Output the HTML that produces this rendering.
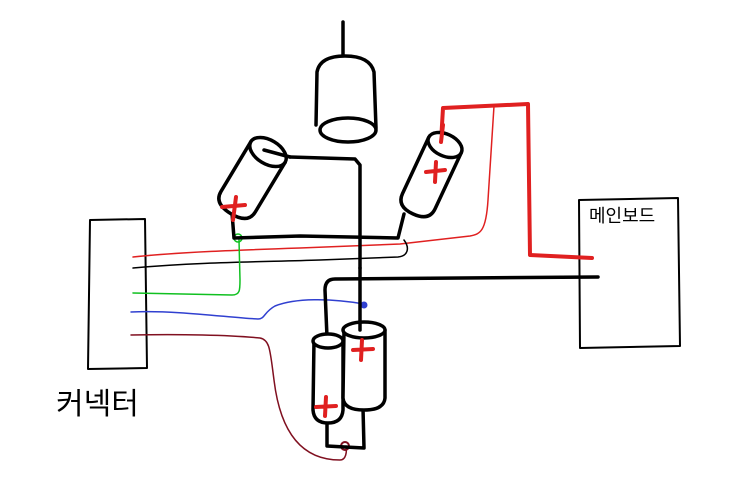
<!DOCTYPE html>
<html><head><meta charset="utf-8"><style>
html,body{margin:0;padding:0;background:#fff;width:743px;height:500px;overflow:hidden}
</style></head><body>
<svg width="743" height="500" viewBox="0 0 743 500" xmlns="http://www.w3.org/2000/svg" fill="none" stroke-linecap="round" stroke-linejoin="round">
<path d="M90,220 L145,219 L147,368 L88,369 Z" stroke="#000" stroke-width="2"/>
<text x="56" y="414" font-family="Liberation Sans, 'Noto Sans CJK KR', sans-serif" font-size="30" fill="#000" stroke="none">커넥터</text>
<path d="M579,200 L678,198 L680,346 L580,348 Z" stroke="#000" stroke-width="2"/>
<text x="589" y="222" font-family="Liberation Sans, 'Noto Sans CJK KR', sans-serif" font-size="18" fill="#000" stroke="none">메인보드</text>

<path d="M133,257 C180,252 240,250 300,248 L400,244 L470,236 C480,234 486,232 488,200 L494,106" stroke="#e02020" stroke-width="1.5"/>
<path d="M133,268 C200,262 260,262 320,260 L398,257 C408,256 410,248 404,240" stroke="#000" stroke-width="1.5"/>
<path d="M133,293 L232,295 C240,295 240,290 240,280 L239,240" stroke="#10c020" stroke-width="1.5"/>
<circle cx="238" cy="238" r="4" stroke="#10c020" stroke-width="1.5"/>
<path d="M131,312 C180,310 230,318 258,319 C265,319 264,312 275,306 C295,298 330,298 364,304" stroke="#3040d0" stroke-width="1.5"/>
<circle cx="364" cy="305" r="3" fill="#3040d0" stroke="#3040d0"/>
<path d="M131,335 C180,334 230,335 260,338 C270,340 270,350 274,380 C280,430 300,460 340,460 C346,460 347,452 346,446" stroke="#801020" stroke-width="1.5"/>
<circle cx="345" cy="446" r="4" stroke="#801020" stroke-width="2"/>

<path d="M441,142 L443,108 L528,104 L530,255 L592,258" stroke="#e02020" stroke-width="4"/>

<path d="M343,22 L343,55" stroke="#000" stroke-width="3.5"/>
<path d="M316,125 L317,72 Q320,56 345,56 Q370,56 374,72 L376,128" stroke="#000" stroke-width="3.5"/>
<ellipse cx="348" cy="130" rx="28" ry="12" stroke="#000" stroke-width="3.5"/>

<path d="M290,157 L355,159 L360,165 L360,268" stroke="#000" stroke-width="3.5"/>
<path d="M232,213 L234,238 L300,236 L398,238 L404,214" stroke="#000" stroke-width="3.5"/>
<path d="M327,337 L325,290 Q325,279 335,279 L598,277" stroke="#000" stroke-width="3.5"/>
<path d="M327,420 L327,446 L345,447 L364,448 L363,408" stroke="#000" stroke-width="3.5"/>

<g transform="translate(268,152) rotate(31)">
<path d="M-20,0 L-20,58 Q-20,72 0,72 Q20,72 20,58 L20,0" stroke="#000" stroke-width="3.5" fill="#fff"/>
<ellipse cx="0" cy="0" rx="20" ry="12" stroke="#000" stroke-width="3.5" fill="#fff"/>
</g>
<path d="M222,207 L245,205 M236,197 L233,220" stroke="#e02020" stroke-width="4"/>
<path d="M264,150 L290,157" stroke="#000" stroke-width="3.5"/>

<g transform="translate(445,145) rotate(25)">
<path d="M-18,0 L-18,62 Q-18,76 0,76 Q18,76 18,62 L18,0" stroke="#000" stroke-width="3.5" fill="#fff"/>
<ellipse cx="0" cy="0" rx="18" ry="11" stroke="#000" stroke-width="3.5" fill="#fff"/>
</g>
<path d="M426,172 L445,170 M436,162 L435,182" stroke="#e02020" stroke-width="4"/>
<path d="M441,142 L443,125" stroke="#e02020" stroke-width="4"/>

<path d="M314,340 L313,410 Q314,423 328,423 Q342,423 343,410 L343,340" stroke="#000" stroke-width="3.5" fill="#fff"/>
<ellipse cx="328" cy="341" rx="15" ry="7" stroke="#000" stroke-width="3.5" fill="#fff"/>
<path d="M316,407 L336,406 M326,397 L325,416" stroke="#e02020" stroke-width="4"/>
<path d="M344,330 L343,398 Q344,410 364,410 Q384,410 385,398 L385,330" stroke="#000" stroke-width="3.5" fill="#fff"/>
<ellipse cx="364" cy="330" rx="21" ry="8" stroke="#000" stroke-width="3.5" fill="#fff"/>
<path d="M353,350 L373,349 M362,340 L361,360" stroke="#e02020" stroke-width="4"/>
<path d="M360,268 L360,330" stroke="#000" stroke-width="3.5"/>
</svg>
</body></html>
